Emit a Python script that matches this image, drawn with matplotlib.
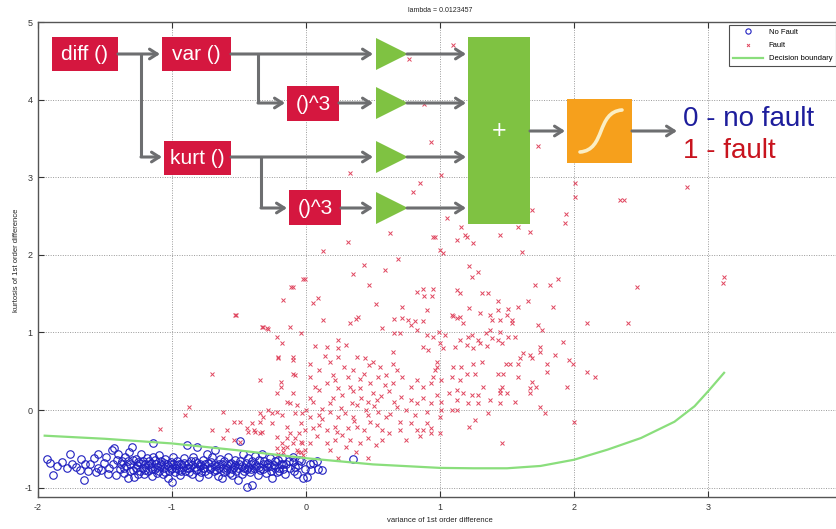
#!/usr/bin/env python3
# -*- coding=utf-8 -*-
# logistic regression decision boundary with the model block diagram on top

import matplotlib
matplotlib.use("Agg")
import matplotlib.pyplot as plt
from matplotlib.patches import Rectangle, Polygon, PathPatch
from matplotlib.path import Path
import numpy as np

# ---------------- data ----------------
lam = 0.0123457

no_fault = [
    (-1.93, -0.63), (-1.91, -0.68), (-1.89, -0.84), (-1.86, -0.72), (-1.82, -0.67), (-1.78, -0.74),
    (-1.76, -0.56), (-1.75, -0.69), (-1.72, -0.73), (-1.69, -0.77), (-1.68, -0.63), (-1.66, -0.90),
    (-1.65, -0.70), (-1.63, -0.78), (-1.61, -0.69), (-1.58, -0.62), (-1.57, -0.80), (-1.55, -0.56),
    (-1.55, -0.74), (-1.53, -0.77), (-1.51, -0.68), (-1.49, -0.60), (-1.48, -0.83), (-1.47, -0.75),
    (-1.45, -0.52), (-1.44, -0.70), (-1.43, -0.49), (-1.42, -0.84), (-1.41, -0.64), (-1.40, -0.56),
    (-1.39, -0.76), (-1.37, -0.66), (-1.36, -0.81), (-1.35, -0.60), (-1.34, -0.72), (-1.33, -0.88),
    (-1.32, -0.54), (-1.31, -0.69), (-1.30, -0.47), (-1.29, -0.77), (-1.28, -0.86), (-1.27, -0.63),
    (-1.26, -0.71), (-1.25, -0.67), (-1.24, -0.79), (-1.23, -0.57), (-1.22, -0.74), (-1.21, -0.83),
    (-1.20, -0.70), (-1.19, -0.62), (-1.18, -0.78), (-1.17, -0.66), (-1.16, -0.73), (-1.15, -0.85),
    (-1.14, -0.43), (-1.14, -0.60), (-1.13, -0.76), (-1.12, -0.69), (-1.11, -0.81), (-1.10, -0.58),
    (-1.09, -0.72), (-1.08, -0.66), (-1.07, -0.82), (-1.06, -0.75), (-1.05, -0.63), (-1.04, -0.70),
    (-1.03, -0.87), (-1.02, -0.78), (-1.01, -0.67), (-1.00, -0.93), (-1.00, -0.74), (-0.99, -0.60),
    (-0.98, -0.80), (-0.97, -0.71), (-0.96, -0.65), (-0.95, -0.77), (-0.94, -0.84), (-0.93, -0.69),
    (-0.92, -0.73), (-0.91, -0.62), (-0.90, -0.79), (-0.89, -0.45), (-0.88, -0.70), (-0.87, -0.75),
    (-0.86, -0.66), (-0.85, -0.82), (-0.84, -0.60), (-0.83, -0.73), (-0.82, -0.77), (-0.81, -0.47),
    (-0.81, -0.68), (-0.80, -0.86), (-0.79, -0.72), (-0.78, -0.80), (-0.77, -0.64), (-0.76, -0.74),
    (-0.75, -0.70), (-0.74, -0.57), (-0.73, -0.82), (-0.72, -0.76), (-0.71, -0.67), (-0.70, -0.60),
    (-0.69, -0.79), (-0.68, -0.52), (-0.67, -0.72), (-0.66, -0.85), (-0.65, -0.69), (-0.64, -0.63),
    (-0.63, -0.88), (-0.62, -0.75), (-0.61, -0.66), (-0.60, -0.77), (-0.59, -0.71), (-0.58, -0.60),
    (-0.57, -0.81), (-0.56, -0.68), (-0.55, -0.84), (-0.54, -0.73), (-0.53, -0.64), (-0.52, -0.78),
    (-0.51, -0.90), (-0.50, -0.70), (-0.49, -0.65), (-0.49, -0.40), (-0.48, -0.82), (-0.47, -0.56),
    (-0.46, -0.74), (-0.45, -0.68), (-0.44, -0.99), (-0.44, -0.76), (-0.43, -0.62), (-0.42, -0.80),
    (-0.41, -0.70), (-0.40, -0.97), (-0.40, -0.66), (-0.39, -0.75), (-0.38, -0.59), (-0.37, -0.72),
    (-0.36, -0.84), (-0.35, -0.64), (-0.34, -0.77), (-0.33, -0.56), (-0.32, -0.70), (-0.31, -0.65),
    (-0.30, -0.81), (-0.29, -0.73), (-0.28, -0.68), (-0.27, -0.62), (-0.26, -0.78), (-0.25, -0.88),
    (-0.24, -0.71), (-0.23, -0.66), (-0.22, -0.80), (-0.21, -0.64), (-0.20, -0.74), (-0.19, -0.69),
    (-0.18, -0.62), (-0.17, -0.76), (-0.16, -0.83), (-0.15, -0.70), (-0.13, -0.66), (-0.12, -0.74),
    (-0.10, -0.67), (-0.10, -0.60), (-0.09, -0.79), (-0.08, -0.73), (-0.07, -0.82), (-0.06, -0.71),
    (-0.05, -0.64), (-0.04, -0.66), (-0.02, -0.88), (-0.01, -0.76), (0.01, -0.86), (0.03, -0.70),
    (0.04, -0.77), (0.05, -0.68), (0.08, -0.66), (0.09, -0.76), (0.12, -0.77), (0.35, -0.63),
    (-1.38, -0.70), (-1.36, -0.74), (-1.33, -0.66), (-1.31, -0.78), (-1.29, -0.64), (-1.27, -0.74),
    (-1.25, -0.82), (-1.24, -0.68), (-1.22, -0.65), (-1.20, -0.77), (-1.18, -0.71), (-1.16, -0.68),
    (-1.15, -0.76), (-1.13, -0.64), (-1.11, -0.73), (-1.10, -0.79), (-1.08, -0.70), (-1.06, -0.68),
    (-1.05, -0.80), (-1.03, -0.72), (-1.01, -0.76), (-0.99, -0.69), (-0.97, -0.75), (-0.95, -0.70),
    (-0.93, -0.78), (-0.91, -0.68), (-0.89, -0.74), (-0.87, -0.80), (-0.85, -0.71), (-0.83, -0.66),
    (-0.81, -0.76), (-0.79, -0.69), (-0.77, -0.74), (-0.75, -0.78), (-0.73, -0.68), (-0.71, -0.73),
    (-0.69, -0.71), (-0.67, -0.77), (-0.65, -0.74), (-0.63, -0.70), (-0.61, -0.80), (-0.59, -0.74),
    (-0.57, -0.70), (-0.55, -0.76), (-0.53, -0.71), (-0.51, -0.74), (-0.48, -0.72), (-0.46, -0.78),
    (-0.43, -0.73), (-0.41, -0.76), (-0.38, -0.69), (-0.35, -0.73), (-0.32, -0.76), (-0.29, -0.69),
    (-0.26, -0.72), (-0.23, -0.75), (-0.20, -0.79), (-0.17, -0.70),
]

fault = [
    # sparse upper part
    (1.10, 4.71), (0.77, 4.52), (0.88, 3.94), (0.93, 3.45), (1.73, 3.40), (0.33, 3.06), (1.01, 3.03),
    (0.85, 2.92), (0.80, 2.81), (2.01, 2.93), (2.01, 2.75), (1.69, 2.58), (1.94, 2.52), (1.93, 2.41),
    (1.05, 2.48), (1.58, 2.36), (1.67, 2.30), (1.16, 2.36), (1.19, 2.26), (0.63, 2.28), (1.45, 2.26),
    (0.95, 2.23), (2.34, 2.71), (2.37, 2.71), (2.84, 2.88), (2.47, 1.59), (2.40, 1.12), (3.12, 1.72),
    (3.11, 1.64), (2.16, 0.42), (2.10, 0.49), (2.10, 1.12), (2.00, -0.15), (1.46, -0.43),
    (1.61, 2.04), (0.69, 1.95), (0.96, 2.23), (1.00, 2.06), (1.02, 2.02), (1.13, 2.19), (1.20, 2.23),
    (1.25, 2.15), (1.22, 1.86), (1.28, 1.78), (1.24, 1.72), (1.71, 1.61), (1.82, 1.61), (1.88, 1.69),
    (0.87, 1.56), (0.95, 1.56), (0.88, 1.47), (0.94, 1.47), (1.13, 1.55), (1.15, 1.51), (1.31, 1.51),
    (1.36, 1.51), (1.43, 1.41), (1.66, 1.41), (1.84, 1.33), (1.58, 1.33), (0.90, 1.29), (0.72, 1.33),
    (1.22, 1.32), (1.30, 1.25), (1.43, 1.29), (1.51, 1.30), (1.50, 1.22), (1.37, 1.22), (1.10, 1.21),
    (1.15, 1.20), (1.39, 1.16), (1.45, 1.16), (1.54, 1.16), (0.66, 1.17), (0.72, 1.19), (0.81, 1.15),
    (0.87, 1.15), (1.54, 1.12), (1.73, 1.10), (1.76, 1.03), (0.70, 0.99),
    # left half of the cloud
    (0.31, 2.17), (0.13, 2.05), (0.43, 1.87), (0.59, 1.81), (0.35, 1.75), (0.47, 1.61), (-0.02, 1.69),
    (-0.10, 1.59), (-0.17, 1.42), (0.05, 1.38), (0.09, 1.44), (0.52, 1.37), (-0.53, 1.23), (0.13, 1.16),
    (0.33, 1.12), (0.37, 1.17), (0.39, 1.20), (-0.32, 1.07), (-0.28, 1.04), (-0.12, 1.07), (-0.04, 0.99),
    (-0.22, 0.94), (-0.18, 0.86), (0.24, 0.90), (0.57, 1.06), (0.07, 0.83), (0.16, 0.81), (0.24, 0.80),
    (0.30, 0.84), (-0.21, 0.67), (-0.10, 0.65), (0.03, 0.60), (0.18, 0.62), (0.24, 0.69), (0.38, 0.69),
    (0.44, 0.67), (0.50, 0.62), (-0.34, 0.39), (-0.08, 0.45), (0.03, 0.43), (0.10, 0.52), (0.16, 0.35),
    (0.22, 0.39), (0.31, 0.43), (0.35, 0.52), (0.43, 0.47), (0.48, 0.35), (0.54, 0.43), (0.59, 0.32),
    (-0.19, 0.30), (-0.22, 0.22), (-0.10, 0.22), (0.10, 0.26), (0.24, 0.28), (0.33, 0.30), (0.40, 0.28),
    (0.50, 0.22), (-0.14, 0.10), (-0.07, 0.06), (0.03, 0.15), (0.05, 0.10), (0.18, 0.09), (0.34, 0.09),
    (0.38, 0.06), (0.46, 0.10), (0.53, 0.13), (-0.34, -0.04), (-0.25, -0.04), (-0.18, -0.06),
    (-0.08, -0.04), (-0.03, -0.04), (0.03, -0.09), (0.10, -0.06), (0.18, -0.03), (0.24, -0.09),
    (0.29, -0.04), (0.35, -0.09), (0.46, -0.06), (0.54, -0.03), (0.60, -0.09), (-0.54, -0.15),
    (-0.49, -0.15), (-0.40, -0.17), (-0.34, -0.15), (-0.59, -0.26), (-0.44, -0.23), (-0.38, -0.28),
    (-0.33, -0.28), (-0.25, -0.17), (-0.14, -0.22), (-0.04, -0.17), (-0.01, -0.26), (0.05, -0.23),
    (0.10, -0.19), (0.16, -0.26), (0.22, -0.22), (0.23, -0.28), (0.31, -0.23), (0.38, -0.22),
    (0.43, -0.26), (0.53, -0.19), (0.57, -0.26), (-0.49, -0.41), (-0.14, -0.36), (-0.10, -0.43),
    (-0.04, -0.41), (-0.17, -0.49), (-0.07, -0.52), (0.03, -0.43), (0.16, -0.43), (0.18, -0.52),
    (0.22, -0.39), (0.33, -0.39), (0.40, -0.43), (0.46, -0.36), (0.57, -0.39), (0.37, -0.54),
    (-0.21, -0.56), (-0.02, -0.58), (-0.04, -0.54), (0.24, -0.62), (0.46, -0.62),
    (-0.87, 0.04), (-0.90, -0.06), (-1.09, -0.25), (-0.70, 0.47), (-0.52, 1.22), (-0.33, 1.07),
    (-0.29, 1.06), (-0.11, 1.59), (-0.01, 1.69), (0.83, 1.52), (0.76, 1.16), (-0.62, -0.03),
    (-0.22, -0.35), (-0.18, -0.43), (-0.14, -0.47), (-0.12, -0.30), (-0.08, -0.36), (-0.06, -0.54),
    (-0.03, -0.43), (-0.01, -0.52), (-0.22, -0.49), (-0.17, -0.54), (-0.70, -0.26), (-0.62, -0.36),
    (-0.54, -0.39), (-0.43, -0.28), (-0.39, -0.26), (-0.34, -0.30), (-0.32, -0.09), (-0.28, 0.00),
    (-0.22, -0.03), (-0.19, 0.36), (-0.21, 0.69), (-0.10, 0.69), (-0.10, 0.47), (-0.12, 0.09),
    # right half of the cloud
    (0.65, 0.75), (0.66, 0.99), (0.87, 0.81), (0.91, 0.77), (1.00, 0.86), (1.02, 0.80), (1.11, 0.81),
    (1.15, 0.90), (1.20, 0.84), (1.25, 0.80), (1.30, 0.86), (1.35, 0.83), (1.43, 0.90), (1.46, 0.86),
    (1.56, 0.94), (1.51, 0.94), (1.62, 0.74), (1.67, 0.71), (1.69, 0.67), (1.75, 0.81), (1.75, 0.75),
    (1.86, 0.71), (1.92, 0.88), (1.96, 0.65), (1.99, 0.60), (1.80, 0.60), (1.60, 0.67), (1.52, 0.60),
    (1.49, 0.60), (1.58, 0.60), (1.43, 0.47), (1.47, 0.47), (1.31, 0.62), (1.25, 0.60), (1.20, 0.47),
    (1.26, 0.47), (1.15, 0.39), (1.13, 0.26), (1.07, 0.22), (1.17, 0.22), (1.24, 0.19), (1.28, 0.19),
    (1.32, 0.30), (1.37, 0.13), (1.45, 0.22), (1.50, 0.22), (1.46, 0.30), (1.45, 0.26), (1.56, 0.10),
    (1.45, 0.09), (1.75, 0.04), (1.78, -0.04), (1.72, 0.30), (1.67, 0.28), (1.67, 0.22), (1.26, -0.13),
    (1.22, -0.22), (1.36, -0.04), (1.28, 0.09), (1.21, 0.09), (1.13, 0.00), (1.09, 0.00), (1.13, 0.13),
    (1.00, -0.09), (1.01, 0.00), (1.00, -0.30), (0.93, -0.30), (0.87, -0.26), (0.83, -0.26),
    (0.75, -0.39), (0.70, -0.26), (0.85, -0.34), (0.98, 0.56), (0.98, 0.62), (0.96, 0.52), (0.95, 0.43),
    (1.01, 0.39), (1.09, 0.43), (1.10, 0.56), (1.16, 0.56), (0.93, 0.35), (0.87, 0.30), (0.83, 0.39),
    (0.78, 0.30), (0.72, 0.43), (0.68, 0.52), (0.65, 0.35), (0.71, 0.17), (0.78, 0.13), (0.83, 0.09),
    (0.87, 0.15), (0.93, 0.09), (0.98, 0.19), (1.01, 0.10), (0.75, 0.00), (0.81, -0.06), (0.90, -0.03),
    (0.68, 0.04), (0.70, -0.15), (0.78, -0.17), (0.90, -0.17), (0.93, -0.23), (0.78, 1.10), (0.83, 1.03),
    (0.90, 0.97), (0.95, 0.94), (0.99, 1.01), (1.04, 0.97), (0.65, 0.60), (1.09, 1.23), (1.13, 1.19),
    (1.17, 1.12), (1.21, 0.94), (1.24, 0.97), (1.28, 0.90), (1.39, 0.93), (1.37, 1.03), (1.45, 1.01),
    (1.34, 0.99), (1.80, 0.49), (1.58, 0.43), (1.69, 0.36), (1.95, 0.30),
    # dense core
    (0.12, 0.02), (0.20, 0.15), (0.27, 0.20), (0.41, 0.16), (0.45, 0.00), (0.51, 0.05), (0.56, 0.18),
    (0.62, 0.25), (0.60, 0.45), (0.55, 0.55), (0.28, 0.55), (0.14, 0.70), (0.07, 0.30), (0.00, 0.00),
    (-0.05, -0.30), (0.08, -0.33), (0.27, -0.32), (0.36, -0.14), (0.48, -0.16), (0.63, -0.05),
    (0.66, 0.10), (0.62, -0.30), (0.52, -0.45), (0.30, -0.48), (0.12, -0.12), (0.20, 0.45),
    (0.40, 0.40), (0.47, 0.58), (0.35, 0.25), (0.26, 0.03),
]

boundary_x = [-1.95, -1.5, -1.0, -0.5, 0.0, 0.5, 1.0, 1.25, 1.5, 1.75, 2.0, 2.25, 2.5, 2.75, 2.9, 3.0, 3.12]
boundary_y = [-0.33, -0.37, -0.43, -0.52, -0.62, -0.70, -0.745, -0.75, -0.75, -0.72, -0.64, -0.51, -0.36,
              -0.15, 0.05, 0.24, 0.48]

x_ticks = [-2, -1, 0, 1, 2, 3]
y_ticks = [-1, 0, 1, 2, 3, 4, 5]

block_labels = ["diff ()", "var ()", "kurt ()", "()^3", "()^3"]
out_labels = ["0 - no fault", "1 - fault"]

# ---------------- figure ----------------
W, H = 837, 529
plt.rcParams['font.family'] = ['Liberation Sans', 'DejaVu Sans']
plt.rcParams['axes.unicode_minus'] = False
fig = plt.figure(figsize=(W / 100, H / 100), dpi=100)
fig.patch.set_facecolor("white")


def fx(px):
    return px / W


def fy(py):
    return 1 - py / H


ax = fig.add_axes([fx(38), fy(497), (842 - 38) / W, (497 - 22) / H])
nf = np.array(no_fault)
ft = np.array(fault)
ax.plot(nf[:, 0], nf[:, 1], "o", mfc="none", mec="#2020c0", ms=5.4, mew=0.8, label="No Fault")
ax.plot(ft[:, 0], ft[:, 1], "x", color="#e0465f", ms=3.0, mew=0.7, label="Fault")
ax.plot(boundary_x, boundary_y, color="#8ade7c", lw=1.6, label="Decision boundary")

ax.set_xlim(-2, 4)
ax.set_ylim(-1.12, 5)
ax.set_xticks(x_ticks)
ax.set_yticks(y_ticks)
ax.grid(True, ls=(0, (1, 1.5)), color="#9a9a9a", lw=0.7)
ax.tick_params(direction="in", top=True, right=True, length=4, labelsize=6.5,
               colors="#333333", pad=4)
for sp in ax.spines.values():
    sp.set_color("#555555")
    sp.set_linewidth(1.0)

leg = ax.legend(loc="upper left", bbox_to_anchor=(fx(729), fy(25)), bbox_transform=fig.transFigure,
                fontsize=5.5, frameon=True, fancybox=False, edgecolor="#222222", borderpad=0.5,
                handlelength=4.0, handletextpad=0.7, labelspacing=0.75, borderaxespad=0,
                markerscale=0.7)
leg.get_frame().set_linewidth(0.8)

fig.text(fx(440), fy(10), f"lambda = {lam}", ha="center", va="center", fontsize=5, color="#222222")
fig.text(fx(440), fy(520), "variance of 1st order difference", ha="center", va="center",
         fontsize=5.5, color="#222222")
fig.text(fx(17), fy(260), "kurtosis of 1st order difference", ha="center", va="center",
         rotation=90, fontsize=5.5, color="#222222")

# ---------------- block diagram overlay (pixel coords) ----------------
ov = fig.add_axes([0, 0, 1, 1])
ov.set_xlim(0, W)
ov.set_ylim(H, 0)
ov.axis("off")
ov.patch.set_alpha(0)
ov.set_zorder(5)

RED = "#d5173f"
GREEN = "#7fc242"
ORANGE = "#f6a01c"
GRAY = "#6d6e70"

red_boxes = [(52, 37, 118, 71), (162, 37, 231, 71), (164, 141, 231, 175),
             (287, 86, 339, 121), (289, 190, 341, 225)]
for (x0, y0, x1, y1), lab in zip(red_boxes, block_labels):
    ov.add_patch(Rectangle((x0, y0), x1 - x0, y1 - y0, color=RED, lw=0))
    ov.text((x0 + x1) / 2, (y0 + y1) / 2 + 1, lab, color="white", ha="center", va="center",
            fontsize=15)


def arrow(pts):
    # polyline with an open arrow head at the last point
    xs = [p[0] for p in pts]
    ys = [p[1] for p in pts]
    if len(pts) > 2:
        ov.plot(xs[:-1], ys[:-1], color=GRAY, lw=2.2, solid_capstyle="butt", solid_joinstyle="miter")
    ov.annotate("", xy=pts[-1], xytext=pts[-2],
                arrowprops=dict(arrowstyle="->,head_length=0.55,head_width=0.35", lw=2.2,
                                color=GRAY, shrinkA=0, shrinkB=0))


arrow([(118, 54), (160, 54)])
arrow([(141, 54), (141, 157), (162, 157)])
arrow([(231, 54), (373, 54)])
arrow([(258, 54), (258, 103), (285, 103)])
arrow([(339, 103), (373, 103)])
arrow([(231, 157), (373, 157)])
arrow([(261, 157), (261, 208), (287, 208)])
arrow([(341, 208), (373, 208)])
for yy in (54, 103, 157, 208):
    ov.add_patch(Polygon([(376, yy - 16), (376, yy + 16), (408, yy)], closed=True, color=GREEN, lw=0))
    arrow([(407, yy), (466, yy)])

ov.add_patch(Rectangle((468, 37), 62, 187, color=GREEN, lw=0))
ov.text(499, 131, "+", color="white", ha="center", va="center", fontsize=18)
arrow([(530, 131), (565, 131)])

ov.add_patch(Rectangle((567, 99), 65, 64, color=ORANGE, lw=0))
sig = Path([(580, 152), (606, 150), (596, 112), (622, 110)],
           [Path.MOVETO, Path.CURVE4, Path.CURVE4, Path.CURVE4])
ov.add_patch(PathPatch(sig, fill=False, ec="#fbeec3", lw=2.6, capstyle="round"))
arrow([(632, 131), (677, 131)])

ov.text(683, 119, out_labels[0], color="#1d1d9c", ha="left", va="center", fontsize=20)
ov.text(683, 151, out_labels[1], color="#c8141e", ha="left", va="center", fontsize=20)

fig.savefig("out.png", dpi=100)
